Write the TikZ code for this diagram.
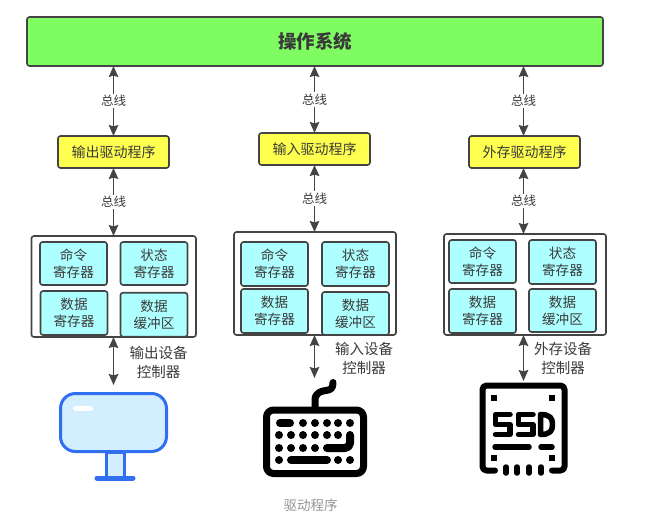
\documentclass[tikz,border=0pt]{standalone}
\usepackage{fontspec}
\setmainfont{Noto Sans CJK SC}
\usetikzlibrary{arrows.meta,calc}
\definecolor{osgreen}{HTML}{7FFC62}
\definecolor{drvyellow}{HTML}{FFFF4F}
\definecolor{cellcyan}{HTML}{AEFFFF}
\definecolor{edge}{HTML}{444444}
\definecolor{ink}{HTML}{3A3A3A}
\definecolor{monblue}{HTML}{2F6FF0}
\definecolor{monfill}{HTML}{D2EEFF}
\tikzset{
  base/.style={draw=edge,line width=1.6pt,rounded corners=2.5pt,outer sep=0pt,inner sep=0pt,text=ink,align=center},
  osbox/.style={base,fill=osgreen,minimum width=576pt,minimum height=49pt,font=\fontsize{18.5}{20}\selectfont\bfseries},
  drvbox/.style={base,fill=drvyellow,minimum width=111pt,minimum height=32pt,font=\fontsize{14}{16}\selectfont},
  ctrlbox/.style={base,fill=white,minimum height=101pt},
  cellbox/.style={base,fill=cellcyan,minimum width=67pt,minimum height=44pt,font=\fontsize{13.6}{17}\selectfont},
  link/.style={draw=edge,line width=1.8pt,{Stealth[length=11pt,width=9.5pt,inset=1.5pt]}-{Stealth[length=11pt,width=9.5pt,inset=1.5pt]}},
  buslabel/.style={fill=white,text=ink,inner sep=1.5pt,font=\fontsize{12.5}{14}\selectfont},
  devlabel/.style={text=ink,align=center,font=\fontsize{14.5}{19}\selectfont},
  caption/.style={text=gray!85,font=\fontsize{13.5}{15}\selectfont},
  kbline/.style={draw=black,line cap=round,line join=round,line width=7pt},
  kbkey/.style={draw=black,line cap=round,line join=round,line width=8pt},
  ssdline/.style={draw=black,line cap=round,line join=round,line width=5.5pt},
}
\begin{document}
\begin{tikzpicture}[x=1pt,y=-1pt]
\useasboundingbox (0,0) rectangle (645,527);
% operating system
\node[osbox] (os) at (315,41.5) {操作系统};
% drivers
\node[drvbox] (d1) at (113.5,152) {输出驱动程序};
\node[drvbox] (d2) at (314.5,149) {输入驱动程序};
\node[drvbox] (d3) at (524.5,152) {外存驱动程序};
% controllers
\node[ctrlbox,minimum width=164.5pt] (c1) at (113.7,286.5) {};
\node[ctrlbox,minimum width=162pt,minimum height=103pt] (c2) at (315,283.5) {};
\node[ctrlbox,minimum width=162pt] (c3) at (525,284.5) {};
% cells 1
\node[cellbox,minimum height=43pt] (a1) at (73.5,263.5) {命令\\寄存器};
\node[cellbox,minimum height=43pt] (b1) at (154,263.5) {状态\\寄存器};
\node[cellbox] (e1) at (74,313) {数据\\寄存器};
\node[cellbox] (f1) at (154,314.7) {数据\\缓冲区};
% cells 2
\node[cellbox] (a2) at (274.5,264) {命令\\寄存器};
\node[cellbox] (b2) at (355.5,264) {状态\\寄存器};
\node[cellbox] (e2) at (274.5,311) {数据\\寄存器};
\node[cellbox,minimum height=43pt] (f2) at (355.5,313.5) {数据\\缓冲区};
% cells 3
\node[cellbox,minimum height=43pt] (a3) at (482.5,261.5) {命令\\寄存器};
\node[cellbox] (b3) at (562.5,262) {状态\\寄存器};
\node[cellbox] (e3) at (482.5,311) {数据\\寄存器};
\node[cellbox,minimum height=43pt] (f3) at (562.5,310.5) {数据\\缓冲区};
% free ends
\coordinate (m1) at (113.5,385);
\coordinate (m2) at (314.5,378);
\coordinate (m3) at (523.5,381);
% buses
\draw[link] (d1.north |- os.south) -- node[buslabel,pos=.5] {总线} (d1.north);
\draw[link] (d2.north |- os.south) -- node[buslabel,pos=.5] {总线} (d2.north);
\draw[link] (m3 |- os.south) -- node[buslabel,pos=.5] {总线} (m3 |- d3.north);
\draw[link] (d1.south) -- node[buslabel,pos=.5] {总线} (d1.south |- c1.north);
\draw[link] (d2.south) -- node[buslabel,pos=.5] {总线} (d2.south |- c2.north);
\draw[link] (m3 |- d3.south) -- node[buslabel,pos=.5] {总线} (m3 |- c3.north);
\draw[link] (m1 |- c1.south) -- (m1);
\draw[link] (m2 |- c2.south) -- (m2);
\draw[link] (m3 |- c3.south) -- (m3);
% device labels
\node[devlabel] (l1) at (158.5,362) {输出设备\\控制器};
\node[devlabel] (l2) at (364,358) {输入设备\\控制器};
\node[devlabel] (l3) at (563,358) {外存设备\\控制器};
\node[caption] (cap) at (310.5,505) {驱动程序};
% monitor
\draw[monblue,line width=3pt,fill=monfill] (106.5,452) rectangle (124,478);
\draw[monblue,line width=5pt,line cap=round] (97,478) -- (133,478);
\draw[monblue,line width=3pt,fill=monfill,rounded corners=15pt] (60.5,393.5) rectangle (166.5,451.5);
\draw[white,line width=5pt,line cap=round] (75.5,408.5) -- (90.5,408.5);
% keyboard
\draw[kbline,rounded corners=7pt] (266.5,410) rectangle (363.5,473.5);
\draw[kbline,line cap=round] (315,408) -- (315,400) .. controls (315,393) and (321,391) .. (326,390.5) .. controls (331,390) and (333,388) .. (333,382.5);
\foreach \yy/\xlist in {423/{303,315,327,338,350},435/{279,291,303,315,327,338},448/{279,291,303,315},460/{279,338,350}}{
  \foreach \xx in \xlist { \fill[black] (\xx,\yy) circle (4pt); }
}
\draw[kbkey] (280,423) -- (290,423);
\draw[kbkey] (291,460) -- (327,460);
\draw[kbkey,rounded corners=5pt] (327,448) -- (350,448) -- (350,435);
% ssd
\draw[ssdline,line width=6pt,rounded corners=4pt] (495,470.5) -- (482.5,470.5) -- (482.5,385.5) -- (564.5,385.5) -- (564.5,470.5) -- (552,470.5);
\foreach \xx/\yy in {494/398,552/398,494/458,552/458}{ \fill[black] (\xx-3,\yy-3) rectangle (\xx+3,\yy+3); }
\draw[ssdline] (510,414.5) -- (495.5,414.5) -- (495.5,424.5) -- (510,424.5) -- (510,434.5) -- (495.5,434.5);
\draw[ssdline] (533,414.5) -- (518.5,414.5) -- (518.5,424.5) -- (533,424.5) -- (533,434.5) -- (518.5,434.5);
\draw[ssdline] (540.5,414.5) -- (540.5,434.5) .. controls (550,434.5) and (552.5,431) .. (552.5,424.5) .. controls (552.5,418) and (550,414.5) .. (540.5,414.5);
\draw[ssdline] (495,447) -- (529,447);
\draw[ssdline] (541,447) -- (552,447);
\foreach \xx in {506,517,529,541}{ \draw[ssdline] (\xx,467) -- (\xx,473); }
\end{tikzpicture}
\end{document}
